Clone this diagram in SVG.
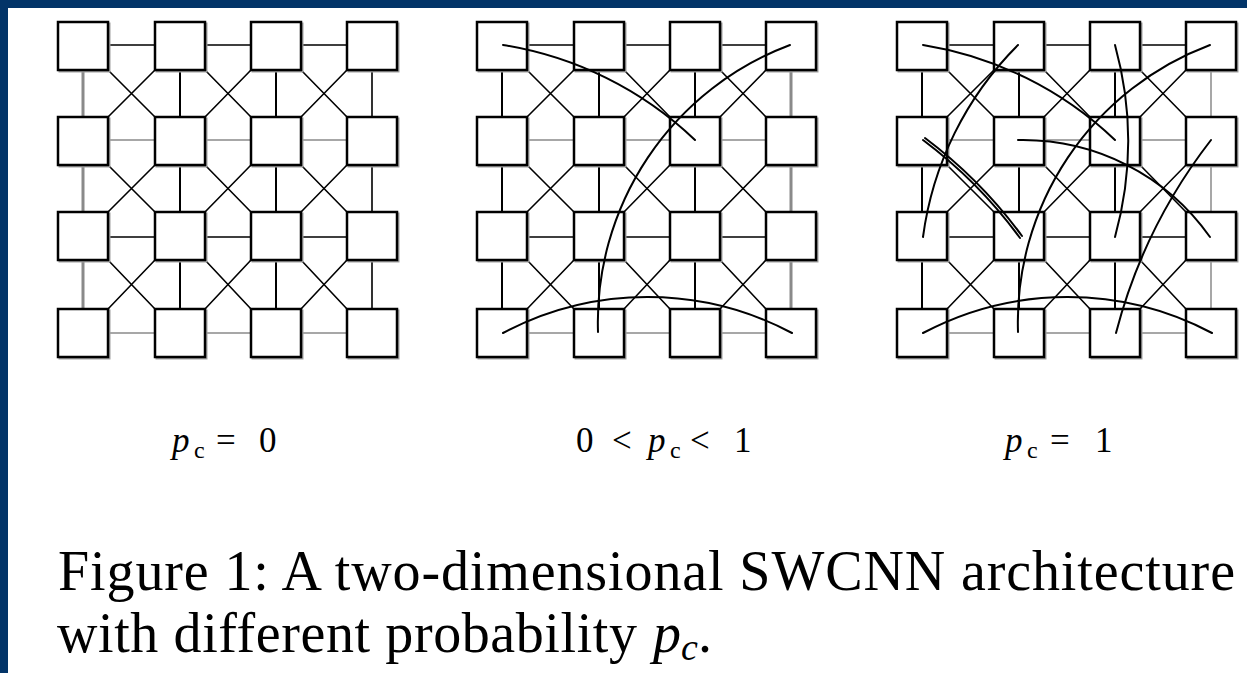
<svg xmlns="http://www.w3.org/2000/svg" xmlns:xlink="http://www.w3.org/1999/xlink" width="1247" height="673" viewBox="0 0 1247 673">
<style>
.sq{fill:#fff;stroke:#000;stroke-width:2.5}
.sh{fill:none;stroke:#a0a0a0;stroke-width:2}
.hb{stroke:#000;stroke-width:1.6}
.hg{stroke:#8a8a8a;stroke-width:1.5}
.vb{stroke:#000;stroke-width:2}
.vg{stroke:#8a8a8a;stroke-width:3}
.vt{stroke:#8a8a8a;stroke-width:1.5}
.dg{stroke:#000;stroke-width:1.6}
.cv{fill:none;stroke:#000;stroke-width:2;stroke-linecap:round}
.lab{font-family:"Liberation Serif","Times New Roman",serif;font-size:35px;fill:#000}
.cap{font-family:"Liberation Serif","Times New Roman",serif;font-size:56px;fill:#000}
</style>
<defs>
<g id="diag">
<path class="dg" d="M108,70L155,117M155,70L108,117M205,70L251,117M251,70L205,117M301,70L347,117M347,70L301,117M108,165L155,212M155,165L108,212M205,165L251,212M251,165L205,212M301,165L347,212M347,165L301,212M108,260L155,309M155,260L108,309M205,260L251,309M251,260L205,309M301,260L347,309M347,260L301,309"/>
<path class="hb" d="M108,45H155M205,45H251M301,45H347M108,237H155M205,237H251M301,237H347"/>
<path class="hg" d="M108,140H155M205,140H251M301,140H347M108,333H155M205,333H251M301,333H347"/>
</g>
<g id="squares">
<rect class="sh" x="59.5" y="23.5" width="50" height="48"/><rect class="sh" x="156.5" y="23.5" width="50" height="48"/><rect class="sh" x="252.5" y="23.5" width="50" height="48"/><rect class="sh" x="348.5" y="23.5" width="50" height="48"/>
<rect class="sh" x="59.5" y="118.5" width="50" height="48"/><rect class="sh" x="156.5" y="118.5" width="50" height="48"/><rect class="sh" x="252.5" y="118.5" width="50" height="48"/><rect class="sh" x="348.5" y="118.5" width="50" height="48"/>
<rect class="sh" x="59.5" y="213.5" width="50" height="48"/><rect class="sh" x="156.5" y="213.5" width="50" height="48"/><rect class="sh" x="252.5" y="213.5" width="50" height="48"/><rect class="sh" x="348.5" y="213.5" width="50" height="48"/>
<rect class="sh" x="59.5" y="310.5" width="50" height="48"/><rect class="sh" x="156.5" y="310.5" width="50" height="48"/><rect class="sh" x="252.5" y="310.5" width="50" height="48"/><rect class="sh" x="348.5" y="310.5" width="50" height="48"/>
</g>
</defs>
<rect x="0" y="0" width="1247" height="673" fill="#fff"/>
<rect x="0" y="0" width="1247" height="8" fill="#023468"/>
<rect x="0" y="0" width="8" height="673" fill="#023468"/>

<!-- Grid 1: p_c = 0 -->
<g id="grid1">
<g id="g1-connectors">
<use xlink:href="#diag"/>
<path class="vg" d="M83,70V117M83,165V212M83,260V309"/>
<path class="vb" d="M180,70V117M180,165V212M180,260V309M276,70V117M276,165V212M276,260V309"/>
<path class="hb" d="M372,70V117M372,165V212M372,260V309"/>
</g>
<use xlink:href="#squares"/>
<g id="g1-n00"><rect class="sq" x="58" y="22" width="50" height="48"/></g>
<g id="g1-n01"><rect class="sq" x="155" y="22" width="50" height="48"/></g>
<g id="g1-n02"><rect class="sq" x="251" y="22" width="50" height="48"/></g>
<g id="g1-n03"><rect class="sq" x="347" y="22" width="50" height="48"/></g>
<g id="g1-n10"><rect class="sq" x="58" y="117" width="50" height="48"/></g>
<g id="g1-n11"><rect class="sq" x="155" y="117" width="50" height="48"/></g>
<g id="g1-n12"><rect class="sq" x="251" y="117" width="50" height="48"/></g>
<g id="g1-n13"><rect class="sq" x="347" y="117" width="50" height="48"/></g>
<g id="g1-n20"><rect class="sq" x="58" y="212" width="50" height="48"/></g>
<g id="g1-n21"><rect class="sq" x="155" y="212" width="50" height="48"/></g>
<g id="g1-n22"><rect class="sq" x="251" y="212" width="50" height="48"/></g>
<g id="g1-n23"><rect class="sq" x="347" y="212" width="50" height="48"/></g>
<g id="g1-n30"><rect class="sq" x="58" y="309" width="50" height="48"/></g>
<g id="g1-n31"><rect class="sq" x="155" y="309" width="50" height="48"/></g>
<g id="g1-n32"><rect class="sq" x="251" y="309" width="50" height="48"/></g>
<g id="g1-n33"><rect class="sq" x="347" y="309" width="50" height="48"/></g>
</g>

<!-- Grid 2: 0 < p_c < 1 -->
<g id="grid2" transform="translate(419,0)">
<g id="g2-connectors">
<use xlink:href="#diag"/>
<path class="vb" d="M83,70V117M83,165V212M83,260V309M180,70V117M180,165V212M180,260V309M276,70V117M276,165V212M276,260V309"/>
<path class="vg" d="M372,70V117M372,165V212M372,260V309"/>
</g>
<use xlink:href="#squares"/>
<g id="g2-n00"><rect class="sq" x="58" y="22" width="50" height="48"/></g>
<g id="g2-n01"><rect class="sq" x="155" y="22" width="50" height="48"/></g>
<g id="g2-n02"><rect class="sq" x="251" y="22" width="50" height="48"/></g>
<g id="g2-n03"><rect class="sq" x="347" y="22" width="50" height="48"/></g>
<g id="g2-n10"><rect class="sq" x="58" y="117" width="50" height="48"/></g>
<g id="g2-n11"><rect class="sq" x="155" y="117" width="50" height="48"/></g>
<g id="g2-n12"><rect class="sq" x="251" y="117" width="50" height="48"/></g>
<g id="g2-n13"><rect class="sq" x="347" y="117" width="50" height="48"/></g>
<g id="g2-n20"><rect class="sq" x="58" y="212" width="50" height="48"/></g>
<g id="g2-n21"><rect class="sq" x="155" y="212" width="50" height="48"/></g>
<g id="g2-n22"><rect class="sq" x="251" y="212" width="50" height="48"/></g>
<g id="g2-n23"><rect class="sq" x="347" y="212" width="50" height="48"/></g>
<g id="g2-n30"><rect class="sq" x="58" y="309" width="50" height="48"/></g>
<g id="g2-n31"><rect class="sq" x="155" y="309" width="50" height="48"/></g>
<g id="g2-n32"><rect class="sq" x="251" y="309" width="50" height="48"/></g>
<g id="g2-n33"><rect class="sq" x="347" y="309" width="50" height="48"/></g>
<g id="g2-shortcuts">
<path class="cv" d="M84,45A361,361 0 0 1 276,140"/>
<path class="cv" d="M371,45A296,296 0 0 0 179,332"/>
<path class="cv" d="M84,333A308,308 0 0 1 373,333"/>
</g>
</g>

<!-- Grid 3: p_c = 1 -->
<g id="grid3" transform="translate(839,0)">
<g id="g3-connectors">
<use xlink:href="#diag"/>
<path class="vb" d="M83,70V117M83,165V212M83,260V309M180,70V117M180,165V212M180,260V309M276,70V117M276,165V212M276,260V309"/>
<path class="vt" d="M372,70V117M372,165V212M372,260V309"/>
</g>
<use xlink:href="#squares"/>
<g id="g3-n00"><rect class="sq" x="58" y="22" width="50" height="48"/></g>
<g id="g3-n01"><rect class="sq" x="155" y="22" width="50" height="48"/></g>
<g id="g3-n02"><rect class="sq" x="251" y="22" width="50" height="48"/></g>
<g id="g3-n03"><rect class="sq" x="347" y="22" width="50" height="48"/></g>
<g id="g3-n10"><rect class="sq" x="58" y="117" width="50" height="48"/></g>
<g id="g3-n11"><rect class="sq" x="155" y="117" width="50" height="48"/></g>
<g id="g3-n12"><rect class="sq" x="251" y="117" width="50" height="48"/></g>
<g id="g3-n13"><rect class="sq" x="347" y="117" width="50" height="48"/></g>
<g id="g3-n20"><rect class="sq" x="58" y="212" width="50" height="48"/></g>
<g id="g3-n21"><rect class="sq" x="155" y="212" width="50" height="48"/></g>
<g id="g3-n22"><rect class="sq" x="251" y="212" width="50" height="48"/></g>
<g id="g3-n23"><rect class="sq" x="347" y="212" width="50" height="48"/></g>
<g id="g3-n30"><rect class="sq" x="58" y="309" width="50" height="48"/></g>
<g id="g3-n31"><rect class="sq" x="155" y="309" width="50" height="48"/></g>
<g id="g3-n32"><rect class="sq" x="251" y="309" width="50" height="48"/></g>
<g id="g3-n33"><rect class="sq" x="347" y="309" width="50" height="48"/></g>
<g id="g3-shortcuts">
<path class="cv" d="M84,45A361,361 0 0 1 276,140"/>
<path class="cv" d="M371,45A296,296 0 0 0 179,332"/>
<path class="cv" d="M84,333A308,308 0 0 1 373,333"/>
<path class="cv" d="M179,45A333,333 0 0 0 84,237"/>
<path class="cv" d="M84,140Q140,182 181,238"/>
<path class="cv" d="M86,138Q142,180 183,236" stroke-width="1.3"/>
<path class="cv" d="M276,45A361,361 0 0 1 276,237"/>
<path class="cv" d="M179,140A229,229 0 0 1 371,237"/>
<path class="cv" d="M372,140A533,533 0 0 0 277,333"/>
</g>
</g>

<g id="labels">
<text class="lab" y="452"><tspan x="172" font-style="italic">p</tspan><tspan x="194" y="458" font-size="24">c</tspan><tspan x="216" y="452">=</tspan><tspan x="259">0</tspan></text>
<text class="lab" y="452"><tspan x="576">0</tspan><tspan x="612">&lt;</tspan><tspan x="648" font-style="italic">p</tspan><tspan x="670" y="458" font-size="24">c</tspan><tspan x="690" y="452">&lt;</tspan><tspan x="734">1</tspan></text>
<text class="lab" y="452"><tspan x="1005" font-style="italic">p</tspan><tspan x="1027" y="458" font-size="24">c</tspan><tspan x="1050" y="452">=</tspan><tspan x="1095">1</tspan></text>
</g>
<g id="caption">
<text class="cap" x="58" y="590" textLength="1177">Figure 1: A two-dimensional SWCNN architecture</text>
<text class="cap" x="57" y="652"><tspan textLength="580">with different probability</tspan><tspan x="653" font-style="italic">p</tspan><tspan font-size="38" font-style="italic" y="660">c</tspan><tspan y="652">.</tspan></text>
</g>
</svg>
